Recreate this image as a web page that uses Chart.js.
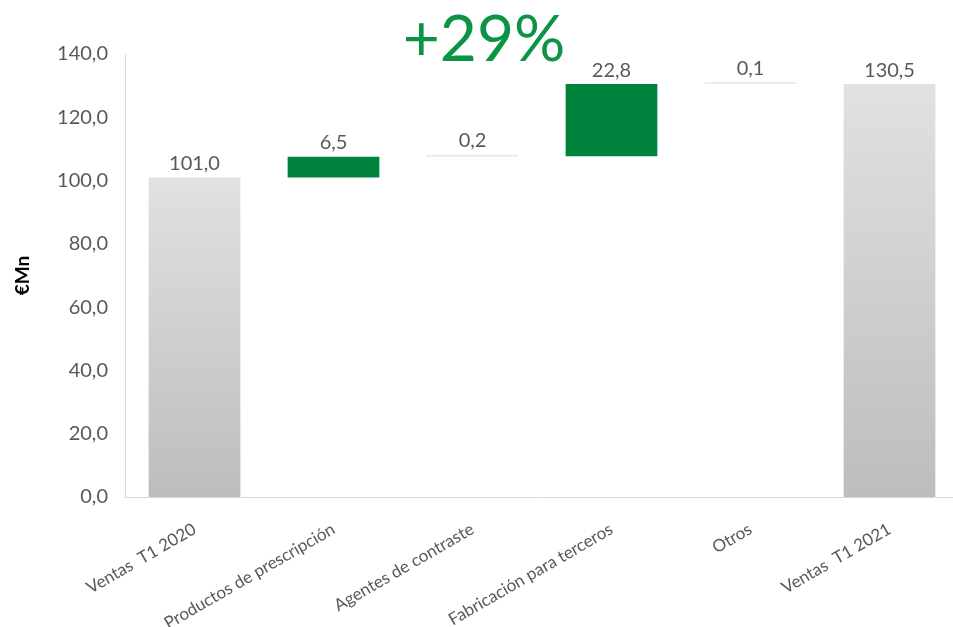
<!DOCTYPE html>
<html>
<head>
<meta charset="utf-8">
<script src="https://cdn.jsdelivr.net/npm/chart.js@4.4.1/dist/chart.umd.min.js"></script>
<style>
  html, body { margin: 0; padding: 0; background: #ffffff; overflow: hidden; }
  #wrap { position: relative; width: 960px; height: 627px; }
</style>
</head>
<body>
<div id="wrap"><canvas id="c"></canvas></div>
<script>
// ---- Data ----
const categories = ['Ventas  T1 2020', 'Productos de prescripción', 'Agentes de contraste', 'Fabricación para terceros', 'Otros', 'Ventas  T1 2021'];
const values = [101.0, 6.5, 0.2, 22.8, 0.1, 130.5];
const kinds = ['total', 'delta', 'delta', 'delta', 'delta', 'total'];
const yTicks = [0, 20, 40, 60, 80, 100, 120, 140];
const headline = '+29%';
const yTitle = '€Mn';

// Build floating ranges for the waterfall
const ranges = [];
let run = 0;
values.forEach((v, i) => {
  if (kinds[i] === 'total') { ranges.push([0, v]); run = v; }
  else { ranges.push([run, run + v]); run = run + v; }
});

const fmt = v => v.toFixed(1).replace('.', ',');
const FONT = 'Lato, "Open Sans", sans-serif';

function barColor(ctx) {
  const i = ctx.dataIndex;
  const chart = ctx.chart;
  if (kinds[i] === 'total') {
    const area = chart.chartArea;
    if (!area) return '#d0d0d0';
    const ys = chart.scales.y;
    const top = ys.getPixelForValue(ranges[i][1]);
    const bot = ys.getPixelForValue(ranges[i][0]);
    const g = chart.ctx.createLinearGradient(0, top, 0, bot);
    g.addColorStop(0, '#e1e1e1');
    g.addColorStop(1, '#bdbdbd');
    return g;
  }
  return values[i] < 1 ? '#ebebeb' : '#00843d';
}

const labelPlugin = {
  id: 'valueLabels',
  afterDatasetsDraw(chart) {
    const ctx = chart.ctx;
    const meta = chart.getDatasetMeta(0);
    ctx.save();
    ctx.font = '20px ' + FONT;
    ctx.fillStyle = '#595959';
    ctx.textAlign = 'center';
    ctx.textBaseline = 'bottom';
    meta.data.forEach((el, i) => {
      const top = Math.min(el.y, el.base);
      ctx.fillText(fmt(values[i]), el.x, top - 4);
    });
    ctx.restore();
  }
};

const headlinePlugin = {
  id: 'headline',
  afterDraw(chart) {
    const ctx = chart.ctx;
    ctx.save();
    ctx.font = '64px ' + FONT;
    ctx.fillStyle = '#0b9444';
    ctx.textAlign = 'center';
    ctx.textBaseline = 'middle';
    ctx.fillText(headline, 484, 40);
    ctx.restore();
  }
};

new Chart(document.getElementById('c'), {
  type: 'bar',
  data: {
    labels: categories,
    datasets: [{
      data: ranges,
      backgroundColor: barColor,
      borderWidth: 0,
      minBarLength: 2,
      barPercentage: 0.66,
      categoryPercentage: 1.0
    }]
  },
  options: {
    responsive: true,
    maintainAspectRatio: false,
    animation: false,
    layout: { padding: { top: 54, right: 1, left: 0, bottom: 0 } },
    plugins: {
      legend: { display: false },
      tooltip: { enabled: false },
      title: { display: false }
    },
    scales: {
      x: {
        grid: { display: false, drawTicks: false },
        border: { display: true, color: '#d9d9d9', width: 1 },
        ticks: {
          autoSkip: false,
          minRotation: 30,
          maxRotation: 30,
          padding: 22,
          color: '#595959',
          font: { family: FONT, size: 17 }
        },
        afterFit(scale) { scale.height = 130; }
      },
      y: {
        min: 0,
        max: 140,
        afterBuildTicks(scale) { scale.ticks = yTicks.map(v => ({ value: v })); },
        grid: { display: false, drawTicks: false },
        border: { display: true, color: '#d9d9d9', width: 1 },
        ticks: {
          padding: 17,
          color: '#595959',
          font: { family: FONT, size: 20 },
          callback: v => fmt(v)
        },
        title: {
          display: true,
          text: yTitle,
          color: '#000000',
          font: { family: FONT, size: 19, weight: 'bold' },
          padding: { top: 11, bottom: 0 }
        },
        afterFit(scale) { scale.width = 125; }
      }
    }
  },
  plugins: [labelPlugin, headlinePlugin]
});
</script>
</body>
</html>
